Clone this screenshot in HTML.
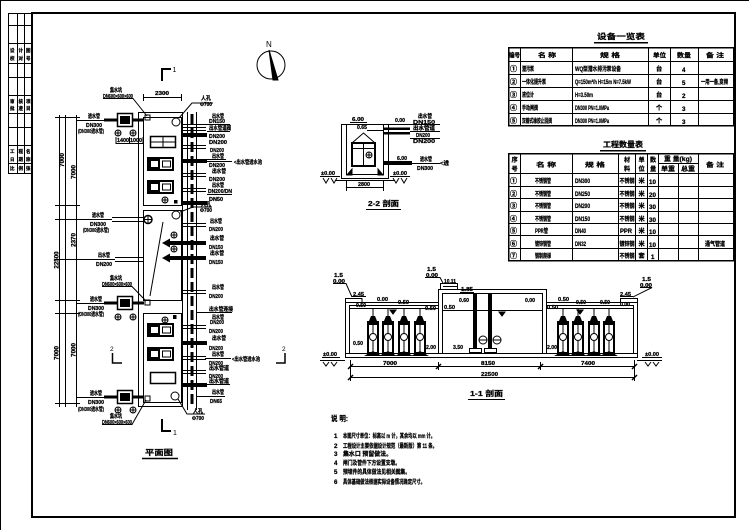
<!DOCTYPE html>
<html><head><meta charset="utf-8">
<style>
html,body{margin:0;padding:0;background:#fff;width:749px;height:530px;overflow:hidden}
svg{display:block}
text{font-family:"Liberation Sans","Noto Sans CJK SC",sans-serif;font-weight:bold;fill:#000;stroke:#000;stroke-width:0.25px}
.x{font-size:4.5px}
.s{font-size:5.5px}
.m{font-size:6.2px}
.l{font-size:7.5px}
.n{font-weight:normal;stroke:none}
</style></head><body>
<svg width="749" height="530" viewBox="0 0 749 530" xmlns="http://www.w3.org/2000/svg">
<defs>
<g id="pump">
<rect x="0" y="321" width="12" height="34" fill="#000" stroke="none"/>
<rect x="2" y="325" width="3.5" height="27" fill="#fff" stroke="none"/>
<rect x="6.5" y="325" width="3.5" height="27" fill="#fff" stroke="none"/>
<circle cx="6" cy="337" r="3.5" fill="#fff" stroke="#000"/>
<path d="M2 321L4 316H8L10 321Z" fill="#000" stroke="none"/>
<line x1="6" y1="316" x2="6" y2="309" stroke="#000"/>
<path d="M-3 356L6 351L15 356Z" fill="#000" stroke="none"/>
</g>
<g id="oc"><circle cx="0" cy="0" r="3" fill="#fff" stroke="#000"/><path d="M-3 0H3M0 -3V3" stroke="#000"/></g>
<g id="pp">
<rect x="148" y="0" width="25" height="12" fill="none" stroke="#000" stroke-width="2"/>
<rect x="149" y="1" width="11" height="10" fill="#000" stroke="none"/>
<rect x="151" y="3" width="7" height="6" fill="#fff" stroke="none"/>
<rect x="162.5" y="3" width="8" height="6" fill="none" stroke="#000"/>
</g>
</defs>

<g fill="none" stroke="#000" stroke-width="1">
<!-- frame -->
<path d="M0 0.5H749M0.5 0V530"/>
<rect x="32" y="13" width="703" height="504" stroke-width="2"/>
<g shape-rendering="crispEdges">
<rect x="8.5" y="13.5" width="24" height="160"/>
<path d="M8 25.5H32M8 43.5H32M8 63.5H32M8 77.5H32M8 95.5H32M8 113.5H32M8 127.5H32M8 145.5H32M8 163.5H32M17.5 13V173M24.5 13V173"/>
</g>

<!-- ============ PLAN ============ -->
<g shape-rendering="crispEdges">
<path d="M59.5 115V407M65.5 115V407M76.5 115V407"/>
<path d="M55 117.5H80M55 205.5H80M55 219.5H80M55 259.5H80M55 300.5H80M55 313.5H80M55 403.5H80"/>
<path d="M76 120.5H105M76 219.5H112M76 259.5H115M76 303.5H105M76 397.5H105"/>
<rect x="138.5" y="112.5" width="44" height="294"/>
<rect x="143.5" y="117.5" width="38" height="88"/>
<rect x="143.5" y="210.5" width="38" height="90"/>
<rect x="143.5" y="313.5" width="38" height="89"/>
<path d="M187.5 112V410M196.5 112V410"/>
<path d="M143 97.5H182M143.5 94V101M181.5 94V101"/>
</g>
<line x1="192" y1="114" x2="192" y2="406" stroke-width="3" stroke-dasharray="10 4"/>
<!-- section marks -->
<path d="M162 81V69H171" stroke-width="2"/>
<path d="M162 419V431H171" stroke-width="2"/>
<path d="M112.5 353V363H122" stroke-width="1.5"/>
<path d="M285 353V363H276" stroke-width="1.5"/>
<path d="M142 458.5H178" stroke-width="1.5"/>

<!-- left well boxes -->
<rect x="104" y="118.5" width="40" height="3" fill="#000" stroke="none"/>
<rect x="117.5" y="113.5" width="15" height="13" stroke-width="1.5" fill="#fff"/>
<rect x="120.5" y="116.5" width="9" height="7" fill="#000"/>
<rect x="104" y="301.5" width="40" height="3" fill="#000" stroke="none"/>
<rect x="117.5" y="296.5" width="15" height="13" stroke-width="1.5" fill="#fff"/>
<rect x="120.5" y="299.5" width="9" height="7" fill="#000"/>
<rect x="104" y="395.5" width="40" height="3" fill="#000" stroke="none"/>
<rect x="117.5" y="390.5" width="15" height="13" stroke-width="1.5" fill="#fff"/>
<rect x="120.5" y="393.5" width="9" height="7" fill="#000"/>
<use href="#oc" x="118" y="133"/><use href="#oc" x="133" y="133"/>
<use href="#oc" x="118" y="317"/><use href="#oc" x="133" y="317"/>
<use href="#oc" x="118" y="410"/><use href="#oc" x="133" y="410"/>
<path d="M116 137V144M143 137V144M116 143.5H143M129.5 137V144" shape-rendering="crispEdges"/>
<!-- small squares & leaders -->
<rect x="145" y="115" width="5" height="5"/>
<rect x="145" y="300" width="5" height="5"/>
<rect x="145" y="396" width="5" height="5"/>
<path d="M103 98.5H133L147 116"/>
<path d="M102 286.5H132L146 301"/>
<path d="M102 424.5H132L146 400"/>
<!-- middle left pipes -->
<path d="M112 217.5H146M112 221.5H146M115 257.5H143M115 261.5H143" shape-rendering="crispEdges"/>
<circle cx="148" cy="219.5" r="4" stroke-width="1.5" fill="#fff"/><path d="M144 219.5H152M148 215.5V223.5"/>
<line x1="163" y1="222" x2="150" y2="296"/>
<!-- windows & pumps -->
<rect x="150.5" y="136.5" width="25" height="11" stroke-width="1.5"/>
<path d="M163 136V148M150 142H176"/>
<rect x="150.5" y="372.5" width="25" height="11" stroke-width="1.5"/>
<use href="#pp" y="158"/><use href="#pp" y="181"/><use href="#pp" y="324"/><use href="#pp" y="348"/>
<use href="#oc" x="165" y="200"/><rect x="174" y="200" width="3.5" height="3.5" fill="#000" stroke="none"/>
<use href="#oc" x="165" y="320"/><rect x="173" y="315" width="3.5" height="4" fill="#000" stroke="none"/>
<circle cx="176" cy="122" r="4"/>
<circle cx="176" cy="215" r="4"/>
<circle cx="175" cy="396" r="4"/>
<use href="#oc" x="174" y="235"/><use href="#oc" x="174" y="249"/>
<path d="M179 118L192 103H213M180 212L193 207H212M178 399L187 414H205"/>

<!-- right pipes -->
<g shape-rendering="crispEdges">
<path d="M182 124.5H230M196 312.5H232M196 396.5H225"/>
<path d="M182 127.5H206M182 130.5H206M182 145.5H206M182 148.5H206M182 173.5H206M182 176.5H206M182 188.5H206M182 191.5H206M182 223.5H206M182 226.5H206M182 290.5H206M182 293.5H206M182 325.5H206M182 328.5H206M182 356.5H206M182 359.5H206M182 370.5H206M182 373.5H206"/>
<path d="M205 161.5H232M205 358.5H231M207 131.5H230M207 159.5H226M207 194.5H232M207 384.5H230"/>
</g>
<g fill="#000" stroke="none">
<rect x="182" y="133" width="25" height="4"/>
<rect x="182" y="159" width="25" height="4"/>
<rect x="182" y="201" width="25" height="4"/>
<rect x="182" y="341" width="25" height="4"/>
<rect x="182" y="383" width="25" height="4"/>
<rect x="168" y="241" width="38" height="4"/>
<rect x="168" y="256" width="38" height="4"/>
<path d="M162 243L170 238.5V247.5Z"/>
<path d="M162 258L170 253.5V262.5Z"/>
</g>

<!-- north arrow -->
<circle cx="271" cy="65" r="14"/>
<path d="M269 50L278 80H273Z" fill="#000"/>

<!-- ============ SECTION 2-2 ============ -->
<g shape-rendering="crispEdges">
<rect x="341.5" y="124.5" width="47" height="54"/>
<path d="M346.5 124.5V174.5H383.5V124.5"/>
<path d="M335 180.5H394"/>
<path d="M350 122.5H367"/>
<path d="M383 124.5H420"/>
<path d="M367 130.5H383"/>
<path d="M412 163.5H440"/>
<path d="M320 176.5H340M390 176.5H410"/>
<path d="M346 187.5H384M346.5 181V191M383.5 181V191"/>
<path d="M366 209.5H401"/>
<path d="M410 124.5H440M410 131.5H440M410 138.5H440"/>
</g>
<rect x="352" y="143" width="23" height="23" stroke-width="2"/>
<path d="M363.5 143V166M352 148.5H375"/>
<path d="M352 143L363.5 133L375 143"/>
<use href="#oc" x="369" y="155"/>
<path d="M347 175L352 169V175ZM383 175L378 169V175Z" fill="#000"/>
<rect x="383" y="127.5" width="27" height="2.5" fill="#000" stroke="none"/>
<rect x="383" y="132" width="27" height="2.5" fill="#000" stroke="none"/>
<rect x="383" y="161" width="29" height="4" fill="#000" stroke="none"/>
<path d="M323 178L326 183L329 178M331 178L334 183L337 178M393 178L396 183L399 178M401 178L404 183L407 178"/>

<!-- ============ SECTION 1-1 ============ -->
<g shape-rendering="crispEdges">
<rect x="345.5" y="353.5" width="292" height="4"/>
<path d="M320 360.5H345M637 360.5H662"/>
<path d="M345.5 298V353M349.5 305V353"/>
<path d="M345 302.5H438M349 305.5H438M349 308.5H438"/>
<path d="M345.5 298.5H362V302"/>
<path d="M438.5 353V289.5H546.5V353M442.5 353V293.5H542.5V353"/>
<rect x="440.5" y="283.5" width="17" height="6"/>
<path d="M443 310.5H542"/>
<path d="M546 302.5H637M546 305.5H633M546 308.5H633"/>
<path d="M637.5 298V353M633.5 305V353"/>
<path d="M620.5 302V298.5H637.5"/>
<path d="M350 366.5H634M350 377.5H634"/>
<path d="M350.5 360V381M438.5 362V370M540.5 362V370M634.5 360V381"/>
<path d="M468 399.5H505"/>
<path d="M322 357.5H340M642 357.5H662"/>
</g>
<path d="M348 369L353 364M436 369L441 364M538 369L543 364M632 369L637 364M348 380L353 375M632 380L637 375" stroke-width="1.5"/>
<use href="#pump" x="367"/><use href="#pump" x="382"/><use href="#pump" x="398"/><use href="#pump" x="414"/>
<use href="#pump" x="557"/><use href="#pump" x="572"/><use href="#pump" x="588"/><use href="#pump" x="603"/>
<rect x="473" y="293" width="4" height="56" fill="#000" stroke="none"/>
<rect x="488" y="293" width="4" height="56" fill="#000" stroke="none"/>
<rect x="469.5" y="348.5" width="12" height="4"/>
<rect x="484.5" y="348.5" width="12" height="4"/>
<circle cx="483" cy="340" r="4" fill="#fff"/><path d="M479 340H487"/>
<circle cx="497" cy="340" r="4" fill="#fff"/><path d="M493 340H501"/>
<path d="M499 312L505 312L502 316Z M390 310L396 310L393 314Z M577 310L583 310L580 314Z" fill="#000"/>
<path d="M333 283.5H346L352 297M425 277.5H440L443 283M640 287.5H652L633 297"/>
<path d="M352 296.5H366M443 286.5H458M460 292.5H474M620 296.5H633"/>
<path d="M323 362L326 366L329 362M331 362L334 366L337 362M645 362L648 366L651 362M653 362L656 366L659 362"/>
</g>

<!-- ============ TABLES ============ -->
<g fill="none" stroke="#000" shape-rendering="crispEdges">
<rect x="508.5" y="47.5" width="225" height="78" stroke-width="1.5"/>
<path d="M508 61.5H733M508 74.5H733M508 87.5H733M508 100.5H733M508 113.5H733"/>
<path d="M520.5 47V126M572.5 47V126M648.5 47V126M670.5 47V126M698.5 47V126"/>
<path d="M594 42.5H648" stroke-width="1.5"/>
<rect x="508.5" y="153.5" width="225" height="107" stroke-width="1.5"/>
<path d="M508 173.5H733M508 186.5H733M508 198.5H733M508 211.5H733M508 223.5H733M508 235.5H733M508 248.5H733M658 163.5H698"/>
<path d="M520.5 153V261M572.5 153V261M618.5 153V261M635.5 153V261M647.5 153V261M658.5 153V261M678.5 163V261M698.5 153V261"/>
<path d="M600 150.5H646" stroke-width="1.5"/>
</g>

<!-- ============ TEXT ============ -->
<!-- strip -->
<g class="x">
<text x="10" y="52">设</text><text x="18.5" y="52">计</text><text x="26" y="52">图</text>
<text x="10" y="60">校</text><text x="18.5" y="60">对</text><text x="26" y="60">号</text>
<text x="10" y="103">审</text><text x="18.5" y="103">核</text><text x="26" y="103">项</text>
<text x="10" y="110">批</text><text x="18.5" y="110">准</text><text x="26" y="110">目</text>
<text x="10" y="153">工</text><text x="18.5" y="153">程</text><text x="26" y="153">名</text>
<text x="10" y="161">日</text><text x="18.5" y="161">期</text><text x="26" y="161">称</text>
<text x="10" y="170">比</text><text x="18.5" y="170">例</text><text x="26" y="170">张</text>
</g>

<!-- plan texts -->
<text class="n" x="172.5" y="72" font-size="7">1</text>
<text class="n" x="173" y="435" font-size="7">1</text>
<text class="n" x="110" y="351" font-size="6.5">2</text>
<text class="n" x="282" y="351" font-size="6.5">2</text>
<text class="l" x="145" y="455" textLength="28" lengthAdjust="spacingAndGlyphs">平面图</text>
<text class="n" x="266" y="47" font-size="8">N</text>
<g class="s">
<text x="155" y="95" textLength="14" lengthAdjust="spacingAndGlyphs">2300</text>
<text x="117" y="142" textLength="12" lengthAdjust="spacingAndGlyphs">1400</text>
<text x="130" y="142" textLength="12" lengthAdjust="spacingAndGlyphs">1000</text>
<text x="110" y="92" textLength="12" lengthAdjust="spacingAndGlyphs">集水坑</text>
<text x="103" y="98" textLength="30" lengthAdjust="spacingAndGlyphs">DN600×600×600</text>
<text x="110" y="280" textLength="12" lengthAdjust="spacingAndGlyphs">集水坑</text>
<text x="102" y="286" textLength="30" lengthAdjust="spacingAndGlyphs">DN600×600×600</text>
<text x="110" y="418" textLength="12" lengthAdjust="spacingAndGlyphs">集水坑</text>
<text x="102" y="424" textLength="30" lengthAdjust="spacingAndGlyphs">DN600×600×600</text>
<text x="88" y="118" textLength="12" lengthAdjust="spacingAndGlyphs">进水管</text>
<text x="86" y="127" textLength="16" lengthAdjust="spacingAndGlyphs">DN300</text>
<text x="78" y="133" textLength="26" lengthAdjust="spacingAndGlyphs">(DN300进水管)</text>
<text x="92" y="217" textLength="12" lengthAdjust="spacingAndGlyphs">进水管</text>
<text x="90" y="226" textLength="16" lengthAdjust="spacingAndGlyphs">DN300</text>
<text x="83" y="232" textLength="26" lengthAdjust="spacingAndGlyphs">(DN300进水管)</text>
<text x="98" y="257" textLength="12" lengthAdjust="spacingAndGlyphs">出水管</text>
<text x="96" y="266" textLength="16" lengthAdjust="spacingAndGlyphs">DN200</text>
<text x="90" y="301" textLength="12" lengthAdjust="spacingAndGlyphs">进水管</text>
<text x="88" y="310" textLength="16" lengthAdjust="spacingAndGlyphs">DN300</text>
<text x="78" y="316" textLength="26" lengthAdjust="spacingAndGlyphs">(DN300进水管)</text>
<text x="90" y="395" textLength="12" lengthAdjust="spacingAndGlyphs">进水管</text>
<text x="88" y="404" textLength="16" lengthAdjust="spacingAndGlyphs">DN300</text>
<text x="78" y="411" textLength="26" lengthAdjust="spacingAndGlyphs">(DN300进水管)</text>
<!-- right labels -->
<text x="201" y="100" textLength="10" lengthAdjust="spacingAndGlyphs">人孔</text>
<text x="200" y="106" textLength="12" lengthAdjust="spacingAndGlyphs">Φ700</text>
<text x="201" y="206" textLength="10" lengthAdjust="spacingAndGlyphs">人孔</text>
<text x="200" y="212" textLength="12" lengthAdjust="spacingAndGlyphs">Φ700</text>
<text x="193" y="413" textLength="10" lengthAdjust="spacingAndGlyphs">人孔</text>
<text x="192" y="420" textLength="12" lengthAdjust="spacingAndGlyphs">Φ700</text>
<text x="212" y="118" textLength="12" lengthAdjust="spacingAndGlyphs">出水管</text>
<text x="209" y="123" textLength="16" lengthAdjust="spacingAndGlyphs">DN150</text>
<text x="209" y="130" textLength="22" lengthAdjust="spacingAndGlyphs">出水管道阀</text>
<text x="209" y="138" textLength="16" lengthAdjust="spacingAndGlyphs">DN200</text>
<text x="209" y="144" textLength="18" lengthAdjust="spacingAndGlyphs">DN200</text>
<text x="210" y="152" textLength="14" lengthAdjust="spacingAndGlyphs">DN200</text>
<text x="212" y="158" textLength="12" lengthAdjust="spacingAndGlyphs">出水管</text>
<text x="209" y="167" textLength="16" lengthAdjust="spacingAndGlyphs">DN200</text>
<text x="212" y="173" textLength="14" lengthAdjust="spacingAndGlyphs">出水管</text>
<text x="209" y="181" textLength="16" lengthAdjust="spacingAndGlyphs">DN200</text>
<text x="212" y="187" textLength="12" lengthAdjust="spacingAndGlyphs">出水管</text>
<text x="208" y="193" textLength="24" lengthAdjust="spacingAndGlyphs">DN200/DN</text>
<text x="209" y="201" textLength="14" lengthAdjust="spacingAndGlyphs">DN50</text>
<text x="234" y="164" textLength="28" lengthAdjust="spacingAndGlyphs">&lt;出水管进水池</text>
<text x="210" y="223" textLength="12" lengthAdjust="spacingAndGlyphs">出水管</text>
<text x="209" y="231" textLength="14" lengthAdjust="spacingAndGlyphs">DN200</text>
<text x="210" y="240" textLength="14" lengthAdjust="spacingAndGlyphs">出水管</text>
<text x="209" y="249" textLength="14" lengthAdjust="spacingAndGlyphs">DN150</text>
<text x="210" y="255" textLength="14" lengthAdjust="spacingAndGlyphs">出水管</text>
<text x="209" y="264" textLength="14" lengthAdjust="spacingAndGlyphs">DN150</text>
<text x="212" y="289" textLength="12" lengthAdjust="spacingAndGlyphs">出水管</text>
<text x="209" y="298" textLength="14" lengthAdjust="spacingAndGlyphs">DN200</text>
<text x="209" y="311" textLength="24" lengthAdjust="spacingAndGlyphs">出水管连接</text>
<text x="212" y="319" textLength="12" lengthAdjust="spacingAndGlyphs">出水管</text>
<text x="210" y="324" textLength="14" lengthAdjust="spacingAndGlyphs">DN200</text>
<text x="209" y="333" textLength="14" lengthAdjust="spacingAndGlyphs">DN200</text>
<text x="212" y="340" textLength="14" lengthAdjust="spacingAndGlyphs">出水管</text>
<text x="209" y="350" textLength="14" lengthAdjust="spacingAndGlyphs">DN200</text>
<text x="212" y="356" textLength="12" lengthAdjust="spacingAndGlyphs">出水管</text>
<text x="209" y="365" textLength="14" lengthAdjust="spacingAndGlyphs">DN200</text>
<text x="232" y="361" textLength="28" lengthAdjust="spacingAndGlyphs">&lt;出水管进水池</text>
<text x="209" y="370" textLength="20" lengthAdjust="spacingAndGlyphs">出水管道</text>
<text x="209" y="378" textLength="14" lengthAdjust="spacingAndGlyphs">DN200</text>
<text x="209" y="383" textLength="20" lengthAdjust="spacingAndGlyphs">出水管道</text>
<text x="212" y="394" textLength="12" lengthAdjust="spacingAndGlyphs">出水管</text>
<text x="210" y="403" textLength="12" lengthAdjust="spacingAndGlyphs">DN65</text>
</g>
<g class="m">
<text transform="translate(64,160) rotate(-90)" text-anchor="middle">7000</text>
<text transform="translate(75.5,172) rotate(-90)" text-anchor="middle">7000</text>
<text transform="translate(75.5,240) rotate(-90)" text-anchor="middle">2370</text>
<text transform="translate(58.5,260) rotate(-90)" text-anchor="middle">22500</text>
<text transform="translate(75.5,350) rotate(-90)" text-anchor="middle">7000</text>
<text transform="translate(58.5,353) rotate(-90)" text-anchor="middle">7000</text>
</g>

<!-- 2-2 texts -->
<g class="s">
<text x="352" y="121" textLength="12" lengthAdjust="spacingAndGlyphs">6.00</text>
<text x="395" y="122" textLength="10" lengthAdjust="spacingAndGlyphs">0.00</text>
<text x="357" y="129" textLength="10" lengthAdjust="spacingAndGlyphs">0.65</text>
<text x="397" y="160" textLength="10" lengthAdjust="spacingAndGlyphs">6.00</text>
<text x="418" y="118" textLength="14" lengthAdjust="spacingAndGlyphs">出水管</text>
<text x="413" y="124" textLength="22" lengthAdjust="spacingAndGlyphs">DN150</text>
<text x="413" y="130" textLength="22" lengthAdjust="spacingAndGlyphs">出水管道</text>
<text x="416" y="137" textLength="14" lengthAdjust="spacingAndGlyphs">DN200</text>
<text x="413" y="143" textLength="22" lengthAdjust="spacingAndGlyphs">DN200</text>
<text x="420" y="161" textLength="12" lengthAdjust="spacingAndGlyphs">进水管</text>
<text x="417" y="170" textLength="16" lengthAdjust="spacingAndGlyphs">DN300</text>
<text x="440" y="165" textLength="9" lengthAdjust="spacingAndGlyphs">&lt;进</text>
<text x="321" y="175" textLength="14" lengthAdjust="spacingAndGlyphs">±0.00</text>
<text x="393" y="175" textLength="14" lengthAdjust="spacingAndGlyphs">±0.00</text>
<text x="358" y="186" textLength="12" lengthAdjust="spacingAndGlyphs">2800</text>
</g>
<text class="l" x="368" y="206" textLength="31" lengthAdjust="spacingAndGlyphs">2-2 剖面</text>

<!-- 1-1 texts -->
<g class="s">
<text x="334" y="277" textLength="9" lengthAdjust="spacingAndGlyphs">1.5</text>
<text x="333" y="283" textLength="12" lengthAdjust="spacingAndGlyphs">0.00</text>
<text x="427" y="271" textLength="9" lengthAdjust="spacingAndGlyphs">1.5</text>
<text x="426" y="277" textLength="12" lengthAdjust="spacingAndGlyphs">0.00</text>
<text x="642" y="281" textLength="9" lengthAdjust="spacingAndGlyphs">1.5</text>
<text x="640" y="287" textLength="12" lengthAdjust="spacingAndGlyphs">0.00</text>
<text x="444" y="283" textLength="12" lengthAdjust="spacingAndGlyphs">10.11</text>
<text x="461" y="291" textLength="12" lengthAdjust="spacingAndGlyphs">1.85</text>
<text x="353" y="296" textLength="11" lengthAdjust="spacingAndGlyphs">2.45</text>
<text x="377" y="301" textLength="11" lengthAdjust="spacingAndGlyphs">0.00</text>
<text x="356" y="307" textLength="10" lengthAdjust="spacingAndGlyphs">0.50</text>
<text x="398" y="304" textLength="11" lengthAdjust="spacingAndGlyphs">0.50</text>
<text x="425" y="310" textLength="11" lengthAdjust="spacingAndGlyphs">0.50</text>
<text x="444" y="309" textLength="11" lengthAdjust="spacingAndGlyphs">0.50</text>
<text x="459" y="302" textLength="10" lengthAdjust="spacingAndGlyphs">0.60</text>
<text x="525" y="302" textLength="10" lengthAdjust="spacingAndGlyphs">0.00</text>
<text x="558" y="301" textLength="11" lengthAdjust="spacingAndGlyphs">0.50</text>
<text x="576" y="304" textLength="10" lengthAdjust="spacingAndGlyphs">0.50</text>
<text x="600" y="304" textLength="10" lengthAdjust="spacingAndGlyphs">0.50</text>
<text x="620" y="306" textLength="10" lengthAdjust="spacingAndGlyphs">0.00</text>
<text x="547" y="309" textLength="11" lengthAdjust="spacingAndGlyphs">0.50</text>
<text x="620" y="296" textLength="11" lengthAdjust="spacingAndGlyphs">2.45</text>
<text x="353" y="345" textLength="10" lengthAdjust="spacingAndGlyphs">0.50</text>
<text x="426" y="349" textLength="10" lengthAdjust="spacingAndGlyphs">2.00</text>
<text x="453" y="349" textLength="10" lengthAdjust="spacingAndGlyphs">3.50</text>
<text x="547" y="349" textLength="10" lengthAdjust="spacingAndGlyphs">2.00</text>
<text x="323" y="356" textLength="14" lengthAdjust="spacingAndGlyphs">±0.00</text>
<text x="645" y="356" textLength="14" lengthAdjust="spacingAndGlyphs">±0.00</text>
<text x="383" y="365" textLength="14" lengthAdjust="spacingAndGlyphs">7000</text>
<text x="481" y="365" textLength="14" lengthAdjust="spacingAndGlyphs">8150</text>
<text x="581" y="365" textLength="14" lengthAdjust="spacingAndGlyphs">7400</text>
<text x="481" y="376" textLength="17" lengthAdjust="spacingAndGlyphs">22500</text>
</g>
<text class="l" x="470" y="396" textLength="33" lengthAdjust="spacingAndGlyphs">1-1 剖面</text>

<!-- tables text -->
<text class="l" x="597" y="39" textLength="48" lengthAdjust="spacingAndGlyphs">设备一览表</text>
<text class="l" x="603" y="147" textLength="40" lengthAdjust="spacingAndGlyphs">工程数量表</text>
<g class="m">
<text x="509" y="57.5" textLength="11" lengthAdjust="spacingAndGlyphs">编号</text>
<text x="538" y="57.5" textLength="18" lengthAdjust="spacingAndGlyphs">名 称</text>
<text x="600" y="57.5" textLength="20" lengthAdjust="spacingAndGlyphs">规 格</text>
<text x="653" y="57.5" textLength="13" lengthAdjust="spacingAndGlyphs">单位</text>
<text x="677" y="57.5" textLength="14" lengthAdjust="spacingAndGlyphs">数量</text>
<text x="706" y="57.5" textLength="18" lengthAdjust="spacingAndGlyphs">备 注</text>
<text x="510" y="71" font-size="7">①</text>
<text x="510" y="84" font-size="7">②</text>
<text x="510" y="97" font-size="7">③</text>
<text x="510" y="110" font-size="7">④</text>
<text x="510" y="123" font-size="7">⑤</text>
<text x="522" y="71" textLength="12" lengthAdjust="spacingAndGlyphs">潜污泵</text>
<text x="522" y="84" textLength="24" lengthAdjust="spacingAndGlyphs">一体化提升泵</text>
<text x="522" y="97" textLength="12" lengthAdjust="spacingAndGlyphs">液位计</text>
<text x="522" y="110" textLength="16" lengthAdjust="spacingAndGlyphs">手动闸阀</text>
<text x="522" y="123" textLength="30" lengthAdjust="spacingAndGlyphs">双瓣式橡胶止回阀</text>
<text x="575" y="71" textLength="46" lengthAdjust="spacingAndGlyphs">WQ型潜水排污泵设备</text>
<text x="575" y="84" textLength="56" lengthAdjust="spacingAndGlyphs">Q=150m³/h H=15m N=7.5kW</text>
<text x="575" y="97" textLength="18" lengthAdjust="spacingAndGlyphs">H=3.50m</text>
<text x="575" y="110" textLength="34" lengthAdjust="spacingAndGlyphs">DN300 PN=1.0MPa</text>
<text x="575" y="123" textLength="34" lengthAdjust="spacingAndGlyphs">DN300 PN=1.0MPa</text>
<text x="656" y="71">台</text><text x="656" y="84">台</text><text x="656" y="97">台</text><text x="656" y="110">个</text><text x="656" y="123">个</text>
<text x="682" y="72">4</text><text x="682" y="85">5</text><text x="682" y="98">2</text><text x="682" y="111">3</text><text x="682" y="124">3</text>
<text x="701" y="84" textLength="27" lengthAdjust="spacingAndGlyphs">一用一备,变频</text>

<text x="511.5" y="162">序</text><text x="511.5" y="171">号</text>
<text x="536" y="167" textLength="20" lengthAdjust="spacingAndGlyphs">名 称</text>
<text x="585" y="167" textLength="20" lengthAdjust="spacingAndGlyphs">规 格</text>
<text x="624" y="162">材</text><text x="624" y="171">料</text>
<text x="638.5" y="162">单</text><text x="638.5" y="171">位</text>
<text x="650" y="162">数</text><text x="650" y="171">量</text>
<text x="664" y="161" textLength="28" lengthAdjust="spacingAndGlyphs">重 量(kg)</text>
<text x="661" y="171" textLength="14" lengthAdjust="spacingAndGlyphs">单重</text>
<text x="681" y="171" textLength="14" lengthAdjust="spacingAndGlyphs">总重</text>
<text x="706" y="167" textLength="18" lengthAdjust="spacingAndGlyphs">备 注</text>

<text x="510" y="183" font-size="7">①</text>
<text x="510" y="196" font-size="7">②</text>
<text x="510" y="208" font-size="7">③</text>
<text x="510" y="221" font-size="7">④</text>
<text x="510" y="233" font-size="7">⑤</text>
<text x="510" y="246" font-size="7">⑥</text>
<text x="510" y="258" font-size="7">⑦</text>
<text x="535" y="183" textLength="16" lengthAdjust="spacingAndGlyphs">不锈钢管</text>
<text x="535" y="196" textLength="16" lengthAdjust="spacingAndGlyphs">不锈钢管</text>
<text x="535" y="208" textLength="16" lengthAdjust="spacingAndGlyphs">不锈钢管</text>
<text x="535" y="221" textLength="16" lengthAdjust="spacingAndGlyphs">不锈钢管</text>
<text x="535" y="233" textLength="13" lengthAdjust="spacingAndGlyphs">PPR管</text>
<text x="535" y="246" textLength="16" lengthAdjust="spacingAndGlyphs">镀锌钢管</text>
<text x="535" y="258" textLength="16" lengthAdjust="spacingAndGlyphs">钢制爬梯</text>
<text x="575" y="183" textLength="15" lengthAdjust="spacingAndGlyphs">DN300</text>
<text x="575" y="196" textLength="15" lengthAdjust="spacingAndGlyphs">DN250</text>
<text x="575" y="208" textLength="15" lengthAdjust="spacingAndGlyphs">DN200</text>
<text x="575" y="221" textLength="15" lengthAdjust="spacingAndGlyphs">DN150</text>
<text x="575" y="233" textLength="11" lengthAdjust="spacingAndGlyphs">DN40</text>
<text x="575" y="246" textLength="11" lengthAdjust="spacingAndGlyphs">DN32</text>
<text x="619.5" y="183" textLength="15" lengthAdjust="spacingAndGlyphs">不锈钢</text>
<text x="619.5" y="196" textLength="15" lengthAdjust="spacingAndGlyphs">不锈钢</text>
<text x="619.5" y="208" textLength="15" lengthAdjust="spacingAndGlyphs">不锈钢</text>
<text x="619.5" y="221" textLength="15" lengthAdjust="spacingAndGlyphs">不锈钢</text>
<text x="620" y="233" textLength="12" lengthAdjust="spacingAndGlyphs">PPR</text>
<text x="619.5" y="246" textLength="15" lengthAdjust="spacingAndGlyphs">镀锌钢</text>
<text x="619.5" y="258" textLength="15" lengthAdjust="spacingAndGlyphs">不锈钢</text>
<text x="638.5" y="183">米</text><text x="638.5" y="196">米</text><text x="638.5" y="208">米</text><text x="638.5" y="221">米</text><text x="638.5" y="233">米</text><text x="638.5" y="246">米</text><text x="638.5" y="258">套</text>
<text x="649" y="184">10</text><text x="649" y="197">20</text><text x="649" y="209">30</text><text x="649" y="222">30</text><text x="649" y="234">10</text><text x="649" y="247">10</text><text x="651" y="259">1</text>
<text x="705" y="246" textLength="20" lengthAdjust="spacingAndGlyphs">通气管道</text>
</g>

<!-- notes -->
<text class="l" x="331" y="421" textLength="17" lengthAdjust="spacingAndGlyphs">说 明:</text>
<g class="m">
<text x="334" y="438">1</text>
<text x="343" y="438" textLength="92" lengthAdjust="spacingAndGlyphs">本图尺寸单位：标高以 m 计，其余均以 mm 计。</text>
<text x="334" y="448">2</text>
<text x="343" y="448" textLength="94" lengthAdjust="spacingAndGlyphs">工程设计主要依据设计规范（最新版）第 11 条。</text>
<text x="334" y="456">3</text>
<text x="343" y="456" textLength="49" lengthAdjust="spacingAndGlyphs">集水口 预留做法。</text>
<text x="334" y="465">4</text>
<text x="343" y="465" textLength="57" lengthAdjust="spacingAndGlyphs">闸门及管件下方设置支墩。</text>
<text x="334" y="474">5</text>
<text x="343" y="474" textLength="67" lengthAdjust="spacingAndGlyphs">预埋件的具体做法见相关图集。</text>
<text x="334" y="484">6</text>
<text x="343" y="484" textLength="82" lengthAdjust="spacingAndGlyphs">具体基础做法根据实际设备情况确定尺寸。</text>
</g>
</svg>
</body></html>
